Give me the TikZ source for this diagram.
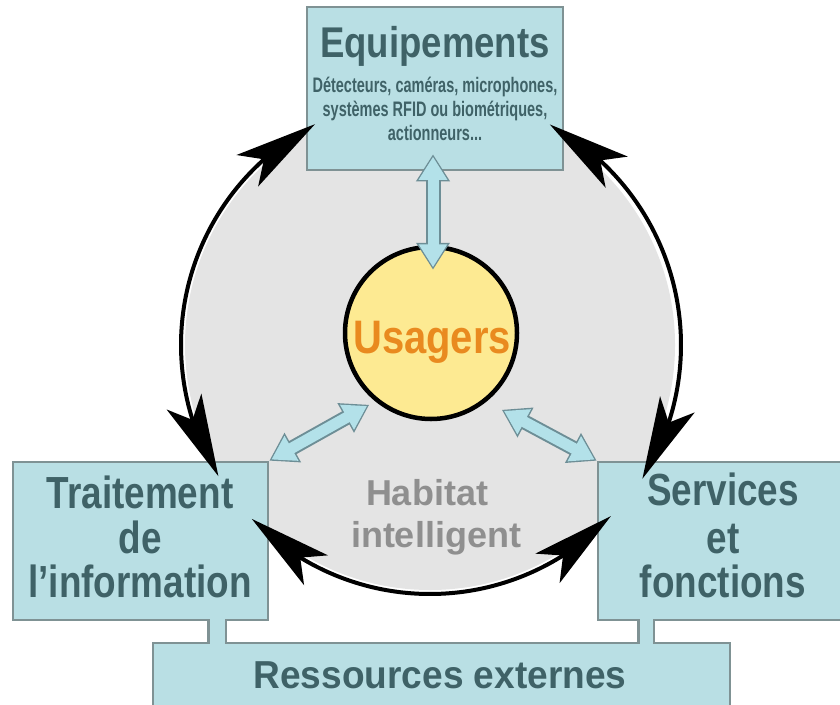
\documentclass[tikz,border=0pt]{standalone}
\usepackage{fontspec}
\setmainfont{Liberation Sans}
\newfontfamily\fBig[FakeStretch=0.82]{Liberation Sans}
\newfontfamily\fEq[FakeStretch=0.85]{Liberation Sans}
\newfontfamily\fSmall[FakeStretch=0.69]{Liberation Sans}
\newfontfamily\fRes[FakeStretch=0.95]{Liberation Sans}
\newfontfamily\fUs[FakeStretch=0.85]{Liberation Sans}
\usetikzlibrary{arrows.meta,bending,calc}
\definecolor{boxfill}{HTML}{B9DFE4}
\definecolor{boxborder}{HTML}{7F9294}
\definecolor{textcol}{HTML}{3F6267}
\definecolor{arrowfill}{HTML}{B3E1E9}
\definecolor{arrowborder}{HTML}{6D8E96}
\definecolor{greyfill}{HTML}{E4E4E4}
\definecolor{yellowc}{HTML}{FDEA92}
\definecolor{orangec}{HTML}{E98A1F}
\definecolor{habgrey}{HTML}{8F8F8F}
\begin{document}
\begin{tikzpicture}[x=1pt,y=-1pt,
  box/.style={rectangle, draw=boxborder, fill=boxfill, line width=2.5pt, inner sep=0pt},
  bigtext/.style={anchor=base, inner sep=0pt, text=textcol, font=\fBig\bfseries\fontsize{45}{45}\selectfont},
  eqtitle/.style={anchor=base, inner sep=0pt, text=textcol, font=\fEq\bfseries\fontsize{43}{43}\selectfont},
  eqsmall/.style={anchor=base, inner sep=0pt, text=textcol, font=\fSmall\bfseries\fontsize{21}{21}\selectfont},
  restext/.style={anchor=base, inner sep=0pt, text=textcol, font=\fRes\bfseries\fontsize{39}{39}\selectfont},
  habtext/.style={anchor=base, inner sep=0pt, text=habgrey, font=\bfseries\fontsize{36}{36}\selectfont},
  ustext/.style={anchor=base, inner sep=0pt, text=orangec, font=\fUs\bfseries\fontsize{47}{47}\selectfont},
  stubout/.style={draw=boxborder, line width=20pt},
  stubin/.style={draw=boxfill, line width=15pt, shorten <=-3pt, shorten >=-3pt},
  blueout/.style={draw=arrowborder, line width=15pt, {Triangle[length=27pt,width=32pt]}-{Triangle[length=27pt,width=32pt]}},
  bluein/.style={draw=arrowfill, line width=11pt, {Triangle[length=23pt,width=27pt]}-{Triangle[length=23pt,width=27pt]}, shorten <=2.5pt, shorten >=2.5pt},
  blackarc/.style={draw=black, line width=4pt, {Stealth[length=82pt,width=38pt,inset=20pt]}-{Stealth[length=82pt,width=38pt,inset=20pt]}}
]
\useasboundingbox (0,0) rectangle (840,704);
\fill[white] (0,0) rectangle (840,704);

% grey habitat circle
\node[circle, fill=greyfill, minimum size=490pt, inner sep=0pt] (hab) at (430,345) {};

% boxes
\node[box, minimum width=256pt, minimum height=163pt] (eq) at (435,88.5) {};
\node[box, minimum width=255pt, minimum height=158pt] (tr) at (140.5,541) {};
\node[box, minimum width=252pt, minimum height=158pt] (sv) at (724,541) {};
\node[box, minimum width=577pt, minimum height=69pt] (res) at (441.5,677.5) {};

% stubs joining boxes to Ressources externes
\coordinate (sL) at (217,0);
\coordinate (sR) at (646,0);
\draw[stubout] (tr.south -| sL) -- (res.north -| sL);
\draw[stubin] (tr.south -| sL) -- (res.north -| sL);
\draw[stubout, line width=18pt] (sv.south -| sR) -- (res.north -| sR);
\draw[stubin, line width=13pt] (sv.south -| sR) -- (res.north -| sR);

% texts
\node[eqtitle] (eqt) at (435,57) {Equipements};
\node[eqsmall] (eqs1) at (435,92) {Détecteurs, caméras, microphones,};
\node[eqsmall] (eqs2) at (435,116) {systèmes RFID ou biométriques,};
\node[eqsmall] (eqs3) at (435,140) {actionneurs...};
\node[bigtext] (tr1) at (140,508) {Traitement};
\node[bigtext] (tr2) at (140,553) {de};
\node[bigtext] (tr3) at (140,597) {l’information};
\node[bigtext] (sv1) at (723,505) {Services};
\node[bigtext] (sv2) at (723,553) {et};
\node[bigtext] (sv3) at (723,597) {fonctions};
\node[restext] (rest) at (440,688) {Ressources externes};
\node[habtext] (hab1) at (427,505) {Habitat};
\node[habtext] (hab2) at (436,547) {intelligent};

% users circle
\node[circle, draw=black, line width=4.5pt, fill=yellowc, minimum size=172pt, inner sep=0pt] (us) at (431,333) {};
\node[ustext] (ust) at (432,353) {Usagers};

% light blue double arrows
\draw[blueout] ($(eq.south)+(-2,-17)$) -- ($(us.north)+(2,25)$);
\draw[bluein]  ($(eq.south)+(-2,-17)$) -- ($(us.north)+(2,25)$);
\draw[blueout] (tr.north east) -- ($(tr.north east)+(100,-56)$);
\draw[bluein]  (tr.north east) -- ($(tr.north east)+(100,-56)$);
\draw[blueout] ($(sv.north west)+(-95,-51)$) -- (sv.north west);
\draw[bluein]  ($(sv.north west)+(-95,-51)$) -- (sv.north west);

% black curved double arrows
\draw[blackarc] ($(hab.center)+(242.5:249)$) arc[start angle=242.5, end angle=148.2, radius=249];
\draw[blackarc] ($(hab.center)+(-61.5:251)$) arc[start angle=-61.5, end angle=32.2, radius=251];
\draw[blackarc] ($(hab.center)+(135.7:249)$) arc[start angle=135.7, end angle=43.4, radius=249];
\end{tikzpicture}
\end{document}
